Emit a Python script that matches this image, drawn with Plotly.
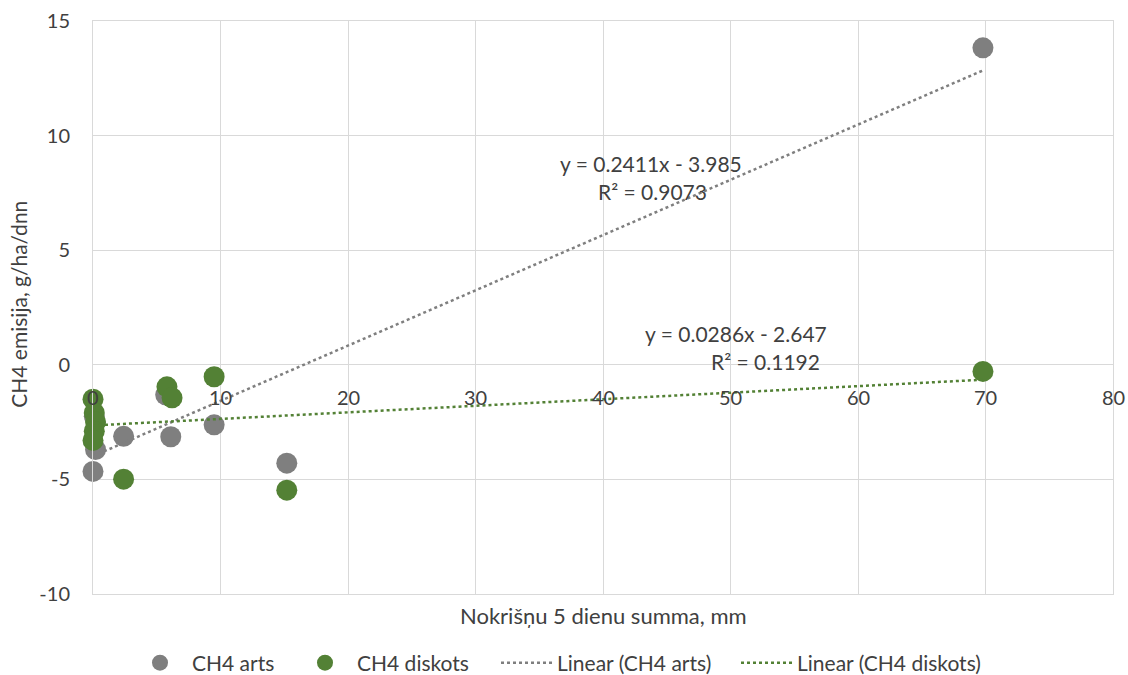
import plotly.graph_objects as go

# ---- data ----
arts_x = [0.0, 0.1, 0.2, 2.4, 5.7, 6.1, 9.5, 15.2, 69.8]
arts_y = [-4.65, -2.25, -3.7, -3.12, -1.31, -3.14, -2.62, -4.29, 13.83]

disk_x = [0.0, 0.1, 0.2, 0.1, 0.0, 2.4, 5.8, 6.2, 9.5, 15.2, 69.8]
disk_y = [-1.5, -2.1, -2.5, -2.9, -3.3, -4.99, -0.96, -1.44, -0.52, -5.47, -0.29]

# trendline coefficients as printed on the chart
arts_slope, arts_icpt, arts_r2 = 0.2411, -3.985, 0.9073
disk_slope, disk_icpt, disk_r2 = 0.0286, -2.647, 0.1192
trend_x = [0.0, 69.8]

x_ticks = [0, 10, 20, 30, 40, 50, 60, 70, 80]
y_ticks = [-10, -5, 0, 5, 10, 15]

series_names = ["CH4 arts", "CH4 diskots", "Linear (CH4 arts)", "Linear (CH4 diskots)"]
x_title = "Nokrišņu 5 dienu summa, mm"
y_title = "CH4 emisija, g/ha/dnn"

GRAY = "#7F7F7F"
GREEN = "#538135"
TXT = "#404040"
FONT = "Lato"
FS = 21

fig = go.Figure()
fig.add_trace(go.Scatter(x=arts_x, y=arts_y, mode="markers", name=series_names[0],
                         marker=dict(color=GRAY, size=21), cliponaxis=False, legend="legend"))
fig.add_trace(go.Scatter(x=disk_x, y=disk_y, mode="markers", name=series_names[1],
                         marker=dict(color=GREEN, size=21), cliponaxis=False, legend="legend2"))
fig.add_trace(go.Scatter(x=trend_x, y=[arts_slope * v + arts_icpt for v in trend_x],
                         mode="lines", name=series_names[2], legend="legend3",
                         line=dict(color=GRAY, width=2.5, dash="dot")))
fig.add_trace(go.Scatter(x=trend_x, y=[disk_slope * v + disk_icpt for v in trend_x],
                         mode="lines", name=series_names[3], legend="legend4",
                         line=dict(color=GREEN, width=2.5, dash="dot")))

PW, PH, PL, PB = 1020, 572.5, 93, 594


def px(xp):
    return (xp - PL) / PW


def py(yp):
    return (PB - yp) / PH


def tf(size=FS):
    return dict(size=size, color=TXT, family=FONT)


annots = []
# x tick labels placed next to the y=0 axis (Excel style)
for t in x_ticks:
    annots.append(dict(x=t, y=0, xref="x", yref="y", text=str(t), showarrow=False,
                       yshift=-32, font=tf(20)))
# equations
annots.append(dict(x=px(651), y=py(149), xref="paper", yref="paper",
                   text=f"y = {arts_slope}x - {abs(arts_icpt)}", showarrow=False, font=tf()))
annots.append(dict(x=px(652), y=py(177), xref="paper", yref="paper",
                   text=f"R² = {arts_r2}", showarrow=False, font=tf()))
annots.append(dict(x=px(736), y=py(334), xref="paper", yref="paper",
                   text=f"y = {disk_slope}x - {abs(disk_icpt)}", showarrow=False, font=tf()))
annots.append(dict(x=px(765), y=py(362), xref="paper", yref="paper",
                   text=f"R² = {disk_r2}", showarrow=False, font=tf()))
# axis titles
annots.append(dict(x=px(603), y=py(615), xref="paper", yref="paper",
                   text=x_title, showarrow=False, yanchor="middle", font=tf(22)))
annots.append(dict(x=px(19), y=py(305), xref="paper", yref="paper",
                   text=y_title, showarrow=False, textangle=-90, xanchor="center",
                   yanchor="middle", font=tf()))


def leg(left_px, iw):
    return dict(orientation="h", x=px(left_px), xanchor="left", y=py(663), yanchor="middle",
                font=tf(), itemwidth=iw, bgcolor="rgba(0,0,0,0)", borderwidth=0)


fig.update_layout(
    width=1128, height=675,
    margin=dict(l=93, r=15, t=21, b=81, autoexpand=False),
    paper_bgcolor="white", plot_bgcolor="white",
    font=dict(family=FONT, size=FS, color=TXT),
    showlegend=True,
    legend=leg(160 - 5 - 27, 54),
    legend2=leg(325 - 5 - 27, 54),
    legend3=leg(497 - 1, 51),
    legend4=leg(737 - 1, 51),
    annotations=annots,
)
fig.update_xaxes(range=[0, 80], tickvals=x_ticks, showticklabels=False,
                 showgrid=True, gridcolor="#D9D9D9", gridwidth=1,
                 zeroline=False, showline=True, mirror=True, linecolor="#D9D9D9")
fig.update_yaxes(range=[-10, 15], tickvals=y_ticks, ticktext=[str(v) for v in y_ticks],
                 showgrid=True, gridcolor="#D9D9D9", gridwidth=1,
                 zeroline=True, zerolinecolor="#D9D9D9", zerolinewidth=1,
                 showline=True, mirror=True, linecolor="#D9D9D9",
                 ticks="", ticklabelstandoff=18, tickfont=tf(20))

fig.write_html("out.html")
